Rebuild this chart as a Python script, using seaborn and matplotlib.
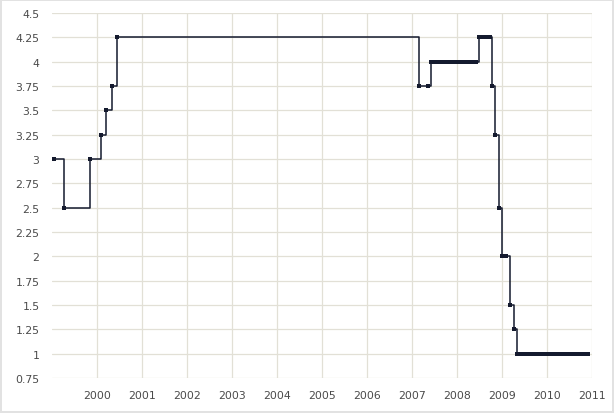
import pandas as pd
import matplotlib
matplotlib.use("Agg")
import matplotlib.pyplot as plt
import matplotlib.dates as mdates
from matplotlib.ticker import FuncFormatter, MultipleLocator
import seaborn as sns

# Datas das observações e taxa correspondente (%)
datas = [
    "1999-01-15", "1999-04-09", "1999-11-05", "2000-02-04", "2000-03-17",
    "2000-04-28", "2000-06-09",
    "2007-03-01", "2007-05-10",
    "2007-06-01", "2007-07-01", "2007-08-01", "2007-09-01", "2007-10-01",
    "2007-11-01", "2007-12-01", "2008-01-01", "2008-02-01", "2008-03-01",
    "2008-04-01", "2008-05-01", "2008-06-05",
    "2008-07-01", "2008-08-01", "2008-09-01", "2008-09-28",
    "2008-10-08", "2008-11-06", "2008-12-04",
    "2009-01-01", "2009-02-05", "2009-03-05", "2009-04-08",
    "2009-05-01", "2009-06-01", "2009-07-01", "2009-08-01", "2009-09-01",
    "2009-10-01", "2009-11-01", "2009-12-01", "2010-01-01", "2010-02-01",
    "2010-03-01", "2010-04-01", "2010-05-01", "2010-06-01", "2010-07-01",
    "2010-08-01", "2010-09-01", "2010-10-01", "2010-11-01", "2010-12-01",
]
taxas = [
    3.0, 2.5, 3.0, 3.25, 3.5,
    3.75, 4.25,
    3.75, 3.75,
    4.0, 4.0, 4.0, 4.0, 4.0,
    4.0, 4.0, 4.0, 4.0, 4.0,
    4.0, 4.0, 4.0,
    4.25, 4.25, 4.25, 4.25,
    3.75, 3.25, 2.5,
    2.0, 2.0, 1.5, 1.25,
    1.0, 1.0, 1.0, 1.0, 1.0,
    1.0, 1.0, 1.0, 1.0, 1.0,
    1.0, 1.0, 1.0, 1.0, 1.0,
    1.0, 1.0, 1.0, 1.0, 1.0,
]
anos = list(range(2000, 2012))

df = pd.DataFrame({"data": pd.to_datetime(datas), "taxa": taxas})

sns.set_style("whitegrid")
plt.rcParams["font.family"] = ["DejaVu Sans"]

fig = plt.figure(figsize=(6.14, 4.14), dpi=100)
fig.patch.set_edgecolor("#e2e2e2")
fig.patch.set_linewidth(1.5)
ax = fig.add_axes([52 / 614, 1 - 379 / 414, 540 / 614, 365 / 414])

sns.lineplot(data=df, x="data", y="taxa", ax=ax, drawstyle="steps-post",
             color="#141a2e", linewidth=1.1, marker="s", markersize=3.2,
             markeredgewidth=0, estimator=None, sort=False)

ax.set_xlim(pd.Timestamp("1999-01-01"), pd.Timestamp("2011-01-01"))
ax.set_ylim(0.75, 4.5)
ax.yaxis.set_major_locator(MultipleLocator(0.25))
ax.yaxis.set_major_formatter(FuncFormatter(lambda v, p: f"{v:g}"))
ax.set_xticks([pd.Timestamp(f"{a}-01-01") for a in anos])
ax.xaxis.set_major_formatter(mdates.DateFormatter("%Y"))

ax.grid(True, color="#e2e0d6", linewidth=0.9)
ax.set_facecolor("white")
for s in ax.spines.values():
    s.set_visible(False)
ax.tick_params(axis="y", length=0, pad=9, labelsize=7.8, labelcolor="#4a4a4a")
ax.tick_params(axis="x", length=0, pad=9, labelsize=7.8, labelcolor="#4a4a4a")
ax.set_xlabel("")
ax.set_ylabel("")

fig.savefig("out.png", dpi=100)
